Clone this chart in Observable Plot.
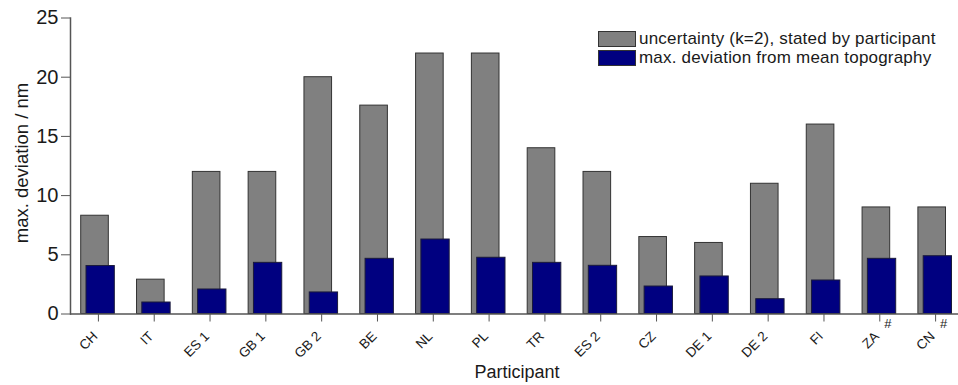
<!DOCTYPE html>
<html>
<head>
<meta charset="utf-8">
<script src="https://cdn.jsdelivr.net/npm/d3@7"></script>
<script src="https://cdn.jsdelivr.net/npm/@observablehq/plot@0.6"></script>
<style>
  html, body { margin: 0; padding: 0; background: #fff; }
  #wrap { position: relative; width: 958px; height: 385px; font-family: "Liberation Sans", Arial, sans-serif; }
  #legend { position: absolute; left: 598px; top: 29px; }
  .row { display: flex; align-items: center; height: 19px; }
  .sw { width: 38px; height: 16px; box-sizing: border-box; border: 1px solid #333; }
  .lab { margin-left: 3px; font-size: 17px; letter-spacing: 0.2px; color: #1a1a1a; white-space: nowrap; line-height: 19px; }
</style>
</head>
<body>
<div id="wrap"></div>
<script>
// Participants in the comparison
const participants = ["CH", "IT", "ES 1", "GB 1", "GB 2", "BE", "NL", "PL", "TR", "ES 2", "CZ", "DE 1", "DE 2", "FI", "ZA", "CN"];
// Participants whose labels carry a "#" note
const flagged = ["ZA", "CN"];

// Expanded uncertainty (k=2) stated by each participant, nm
const uncertainty = [8.3, 2.9, 12, 12, 20, 17.6, 22, 22, 14, 12, 6.5, 6, 11, 16, 9, 9];

// Maximum deviation from the mean topography, nm
const maxDeviation = [4.05, 0.97, 2.07, 4.32, 1.82, 4.66, 6.29, 4.75, 4.32, 4.07, 2.32, 3.17, 1.25, 2.83, 4.66, 4.88];

const yTicks = [0, 5, 10, 15, 20, 25];
const seriesNames = ["uncertainty (k=2), stated by participant", "max. deviation from mean topography"];
const seriesColors = ["#808080", "#000080"];
const yTitle = "max. deviation / nm";
const xTitle = "Participant";

const rows = participants.map((p, i) => ({participant: p, uncertainty: uncertainty[i], deviation: maxDeviation[i]}));

const chart = Plot.plot({
  width: 958,
  height: 385,
  marginLeft: 70,
  marginRight: -5,
  marginTop: 17.5,
  marginBottom: 71.5,
  style: {fontFamily: "'Liberation Sans', Arial, sans-serif", background: "#fff", color: "#1a1a1a"},
  x: {domain: participants, padding: 0, round: false},
  y: {domain: [0, 25]},
  marks: [
    // stated uncertainty behind, measured deviation in front, offset to the right
    Plot.barY(rows, {x: "participant", y: "uncertainty", fill: seriesColors[0], stroke: "#333", strokeWidth: 1, insetLeft: 10.7, insetRight: 17.5}),
    Plot.barY(rows, {x: "participant", y: "deviation", fill: seriesColors[1], stroke: "#1a1a3a", strokeWidth: 1, insetLeft: 16, insetRight: 11.5}),
    Plot.ruleY([0], {stroke: "#555", strokeWidth: 1.5}),
    Plot.frame({anchor: "left", stroke: "#555", strokeWidth: 1.5}),
    Plot.axisY({ticks: yTicks, tickSize: 9, tickPadding: 3, fontSize: 20, label: null, stroke: "#555", tickFormat: d => String(d)}),
    // tick marks only; the slanted names are drawn as text below
    Plot.axisX({tickSize: 8, tickFormat: () => "", label: null, stroke: "#555"}),
    Plot.text(participants, {x: d => d, frameAnchor: "bottom", rotate: -45, textAnchor: "end", lineAnchor: "middle", dx: -3, dy: 20, fontSize: 13.5, fill: "#1a1a1a"}),
    Plot.text(flagged, {x: d => d, frameAnchor: "bottom", dy: 13.5, dx: 8, text: () => "#", fontSize: 13, fill: "#1a1a1a"}),
    Plot.text([yTitle], {frameAnchor: "left", rotate: -90, textAnchor: "middle", lineAnchor: "middle", dx: -48, dy: -3, fontSize: 18.5, fill: "#1a1a1a"}),
    Plot.text([xTitle], {frameAnchor: "bottom", textAnchor: "middle", lineAnchor: "middle", dy: 58, fontSize: 18, fill: "#1a1a1a"})
  ]
});

const wrap = document.getElementById("wrap");
wrap.appendChild(chart);

// Legend over the top-right corner of the plot area
const legend = document.createElement("div");
legend.id = "legend";
seriesNames.forEach((name, i) => {
  const row = document.createElement("div");
  row.className = "row";
  const sw = document.createElement("div");
  sw.className = "sw";
  sw.style.background = seriesColors[i];
  const lab = document.createElement("span");
  lab.className = "lab";
  lab.textContent = name;
  row.appendChild(sw);
  row.appendChild(lab);
  legend.appendChild(row);
});
wrap.appendChild(legend);
</script>
</body>
</html>
